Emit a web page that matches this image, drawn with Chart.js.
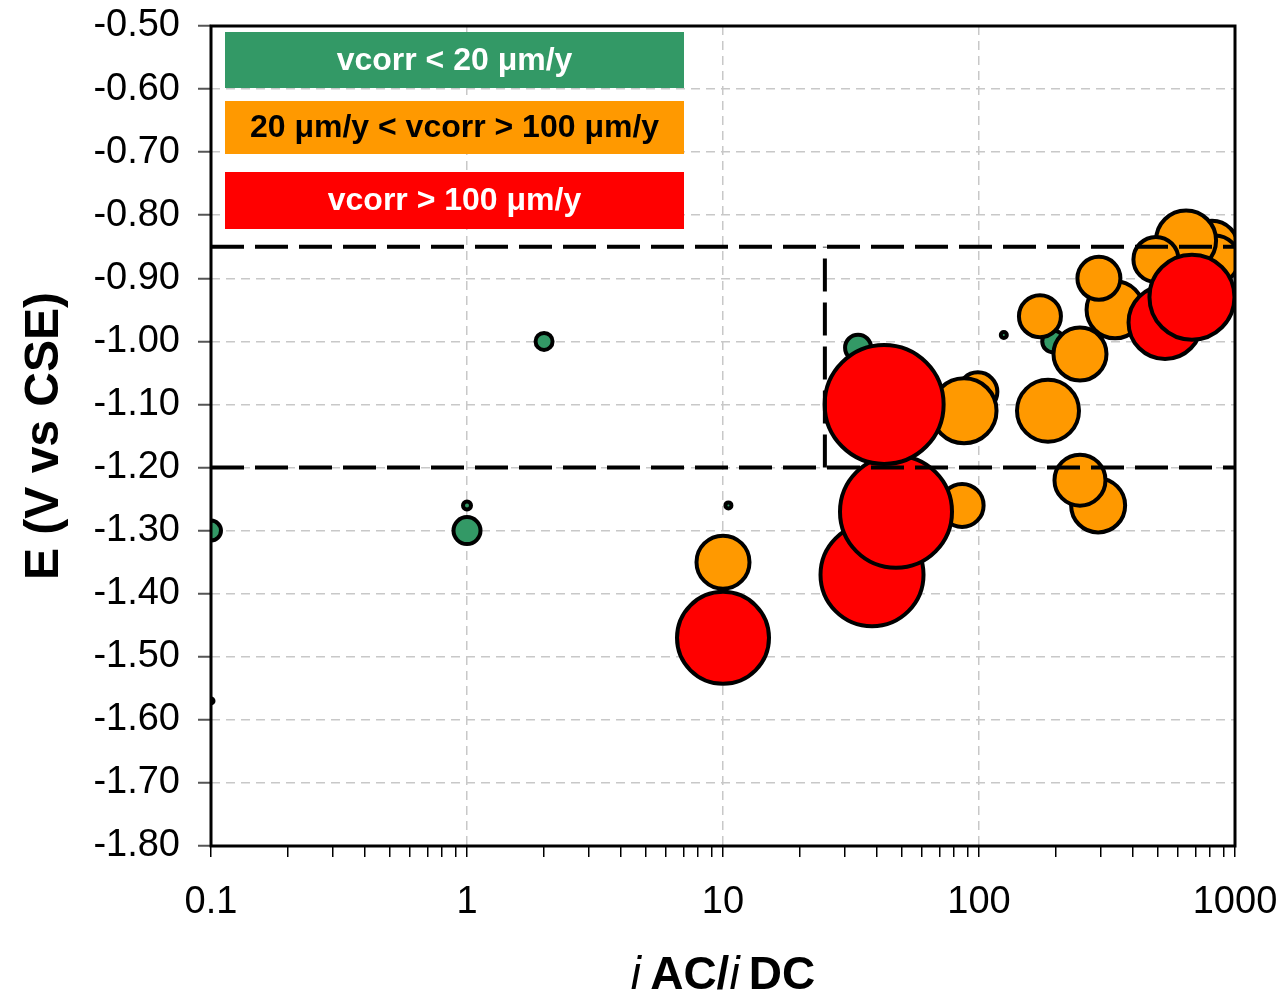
<!DOCTYPE html>
<html>
<head>
<meta charset="utf-8">
<script src="https://cdn.jsdelivr.net/npm/chart.js@4.4.1/dist/chart.umd.min.js"></script>
<style>
  html, body { margin: 0; padding: 0; background: #fff; }
  #wrap { width: 1284px; height: 1007px; }
</style>
</head>
<body>
<div id="wrap"><canvas id="c" width="1284" height="1007"></canvas></div>
<script>
// ---- Data ----
// vcorr < 20 µm/y
const greenX = [0.1, 0.1, 1, 1, 2, 10.5, 33.7, 125, 195];
const greenY = [-1.30, -1.57, -1.30, -1.26, -1.00, -1.26, -1.01, -0.99, -1.00];
const greenR = [10, 2.5, 13.5, 4, 8.5, 3, 13, 3, 11];
// 20 µm/y < vcorr < 100 µm/y
const orangeX = [99, 87.4, 85.9, 10, 186, 173, 248, 340, 294, 292, 248, 813, 835, 644, 491];
const orangeY = [-1.08, -1.11, -1.26, -1.35, -1.11, -0.96, -1.02, -0.95, -0.90, -1.26, -1.22, -0.85, -0.87, -0.84, -0.87];
const orangeR = [19.5, 32.5, 21.5, 26.5, 31, 21, 26.5, 28.5, 21.5, 27, 25.5, 26, 24, 30, 22.5];
// vcorr > 100 µm/y
const redX = [10, 38.2, 47.4, 42.6, 533, 679];
const redY = [-1.47, -1.37, -1.27, -1.10, -0.97, -0.93];
const redR = [46, 51.5, 56, 59.5, 36.5, 42.5];

// dashed threshold lines
const limitUpperE = -0.85;
const limitLowerE = -1.20;
const limitRatio = 25;
const xMin = 0.1, xMax = 1000;

// axis ticks / labels
const xMajorTicks = [0.1, 1, 10, 100, 1000];
const xTickLabels = ['0.1', '1', '10', '100', '1000'];
const yMin = -1.80, yMax = -0.50, yStep = 0.10;

const legendTexts = ['vcorr < 20 \u03bcm/y', '20 \u03bcm/y < vcorr > 100 \u03bcm/y', 'vcorr > 100 \u03bcm/y'];
const yTitle = 'E (V vs CSE)';

// ---- Build ----
const GREEN = '#339966', ORANGE = '#FF9900', RED = '#FF0000';
function pts(xs, ys, rs) { return xs.map((x, i) => ({ x: x, y: ys[i], r: rs[i] })); }

const xAllTicks = [];
for (let d = -1; d < 3; d++) {
  for (let m = 1; m < 10; m++) xAllTicks.push(+(m * Math.pow(10, d)).toPrecision(3));
}
xAllTicks.push(1000);

const FONT = "'Liberation Sans', Arial, sans-serif";

const lineStyle = {
  type: 'line', borderColor: '#000', borderWidth: 4, borderDash: [33, 11],
  pointRadius: 0, pointHoverRadius: 0, fill: false, tension: 0
};

const decorPlugin = {
  id: 'decor',
  afterDatasetsDraw(chart) {
    const { ctx, chartArea: a } = chart;
    ctx.save();
    // plot frame
    ctx.strokeStyle = '#000';
    ctx.lineWidth = 3;
    ctx.strokeRect(a.left, a.top, a.right - a.left, a.bottom - a.top);
    // legend text boxes
    const boxes = [
      { fill: GREEN, text: '#fff', t: legendTexts[0], y0: 6, y1: 62 },
      { fill: ORANGE, text: '#000', t: legendTexts[1], y0: 75, y1: 128 },
      { fill: RED, text: '#fff', t: legendTexts[2], y0: 146, y1: 203 }
    ];
    const bx0 = a.left + 14, bx1 = a.left + 473;
    ctx.font = 'bold 32px ' + FONT;
    ctx.textAlign = 'center';
    ctx.textBaseline = 'middle';
    boxes.forEach(b => {
      ctx.fillStyle = b.fill;
      ctx.fillRect(bx0, a.top + b.y0, bx1 - bx0, b.y1 - b.y0);
      ctx.fillStyle = b.text;
      ctx.fillText(b.t, (bx0 + bx1) / 2, a.top + (b.y0 + b.y1) / 2 + 1);
    });
    ctx.restore();
  },
  afterDraw(chart) {
    const { ctx, chartArea: a } = chart;
    ctx.save();
    ctx.fillStyle = '#000';
    // y title
    ctx.save();
    ctx.translate(45, (a.top + a.bottom) / 2);
    ctx.rotate(-Math.PI / 2);
    ctx.font = 'bold 48px ' + FONT;
    ctx.textAlign = 'center';
    ctx.textBaseline = 'middle';
    ctx.fillText(yTitle, 0, 0);
    ctx.restore();
    // x title with italic i
    const parts = [
      { t: 'i', f: 'italic 46px ' + FONT },
      { t: '\u2009AC/', f: 'bold 46px ' + FONT },
      { t: 'i', f: 'italic 46px ' + FONT },
      { t: '\u2009DC', f: 'bold 46px ' + FONT }
    ];
    let total = 0;
    parts.forEach(p => { ctx.font = p.f; p.w = ctx.measureText(p.t).width; total += p.w; });
    let x = (a.left + a.right) / 2 - total / 2;
    ctx.textAlign = 'left';
    ctx.textBaseline = 'middle';
    parts.forEach(p => { ctx.font = p.f; ctx.fillText(p.t, x, 976); x += p.w; });
    ctx.restore();
  }
};

new Chart(document.getElementById('c'), {
  type: 'bubble',
  data: {
    datasets: [
      Object.assign({ label: 'upper', data: [{ x: xMin, y: limitUpperE }, { x: xMax, y: limitUpperE }] }, lineStyle),
      Object.assign({ label: 'lower', data: [{ x: xMin, y: limitLowerE }, { x: xMax, y: limitLowerE }] }, lineStyle),
      Object.assign({ label: 'ratio', data: [{ x: limitRatio, y: limitLowerE }, { x: limitRatio, y: limitUpperE }] }, lineStyle),
      { label: legendTexts[2], data: pts(redX, redY, redR), backgroundColor: RED, borderColor: '#000', borderWidth: 4, clip: 0 },
      { label: legendTexts[1], data: pts(orangeX, orangeY, orangeR), backgroundColor: ORANGE, borderColor: '#000', borderWidth: 4, clip: 0 },
      { label: legendTexts[0], data: pts(greenX, greenY, greenR), backgroundColor: GREEN, borderColor: '#000', borderWidth: 4, clip: 0 }
    ]
  },
  options: {
    responsive: false,
    animation: false,
    events: [],
    layout: { autoPadding: false, padding: { top: 26, right: 49, left: 0, bottom: 0 } },
    plugins: { legend: { display: false }, tooltip: { enabled: false } },
    scales: {
      x: {
        type: 'logarithmic',
        min: xMin, max: xMax,
        afterBuildTicks: s => { s.ticks = xAllTicks.map(v => ({ value: v, major: xMajorTicks.includes(v) })); },
        afterFit: s => { s.height = 161; s.paddingLeft = 0; s.paddingRight = 0; },
        ticks: {
          autoSkip: false, maxRotation: 0, minRotation: 0,
          padding: 23, color: '#000',
          font: { family: FONT, size: 38 },
          callback: v => { const i = xMajorTicks.indexOf(v); return i >= 0 ? xTickLabels[i] : ''; }
        },
        grid: {
          color: c => (c.tick && xMajorTicks.includes(c.tick.value)) ? '#c8c8c8' : 'rgba(0,0,0,0)',
          lineWidth: 1.5,
          tickColor: '#000', tickLength: 11, tickWidth: 1.5, tickBorderDash: [1, 0]
        },
        border: { display: false, dash: [9, 6] },
        title: { display: false }
      },
      y: {
        type: 'linear',
        min: yMin, max: yMax,
        afterFit: s => { s.width = 211; s.paddingTop = 0; s.paddingBottom = 0; },
        ticks: {
          stepSize: yStep, padding: 18, color: '#000',
          font: { family: FONT, size: 38 },
          callback: v => (Math.round(v * 100) / 100).toFixed(2)
        },
        grid: {
          color: '#c8c8c8', lineWidth: 1.5,
          tickColor: '#555', tickLength: 13, tickWidth: 2, tickBorderDash: [1, 0]
        },
        border: { display: false, dash: [9, 6] },
        title: { display: false }
      }
    }
  },
  plugins: [decorPlugin]
});
</script>
</body>
</html>
